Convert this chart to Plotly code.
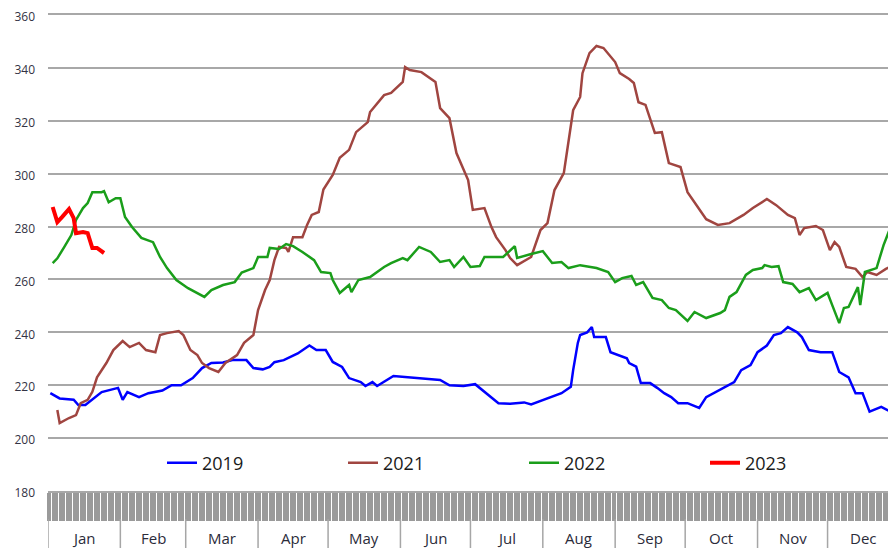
import plotly.graph_objects as go

# ---------------- data (day of year, value) ----------------
days_2019 = [1, 5, 11, 13, 16, 23, 30, 32, 34, 39, 43, 49, 53, 57, 62, 66, 70, 75, 79, 85, 88, 92, 95, 97,
             101, 107, 112, 115, 119, 122, 126, 129, 134, 136, 139, 141, 148, 155, 162, 168, 172, 178, 183,
             186, 190, 193, 198, 204, 207, 212, 216, 220, 224, 225, 227, 228, 231, 233, 234, 239, 241, 244,
             248, 249, 252, 254, 258, 261, 264, 267, 270, 274, 279, 282, 289, 294, 297, 301, 304, 308, 311,
             314, 317, 321, 323, 326, 331, 336, 339, 343, 346, 349, 352, 357, 362, 365]
vals_2019 = [217, 215, 214.5, 212.5, 212.5, 217.4, 219, 214.5, 217.4, 215.5, 217, 218, 220, 220, 222.7, 226.5,
             228.4, 228.6, 229.5, 229.5, 226.5, 226, 226.9, 228.7, 229.5, 232, 235, 233.3, 233.3, 228.8, 226.9,
             222.7, 221.2, 219.7, 221.2, 219.7, 223.5, 223, 222.3, 222, 220, 219.7, 220.4, 218.2, 215.5, 213.2,
             213, 213.5, 212.7, 214.4, 215.5, 217, 219.4, 225.7, 236, 239, 240, 242, 238.2, 238.2, 232.5, 231.4,
             230.2, 228.4, 227, 220.8, 220.8, 219, 217, 215.5, 213.2, 213.2, 211.4, 215.5, 218.8, 221.2, 225.7,
             227.6, 232.5, 235, 239, 239.7, 242, 240, 238.2, 233.3, 232.5, 232.5, 225, 223, 217, 217, 210,
             211.8, 209.5, 210]

days_2021 = [4, 5, 9, 12, 14, 17, 19, 21, 25, 28, 32, 35, 39, 42, 46, 48, 51, 56, 58, 61, 64, 66, 69, 73, 76,
             81, 84, 88, 90, 93, 95, 97, 99, 102, 103, 105, 109, 111, 113, 116, 118, 122, 125, 129, 132, 137,
             138, 144, 147, 152, 153, 155, 160, 166, 168, 172, 175, 180, 182, 187, 190, 192, 196, 198, 201,
             207, 211, 214, 217, 221, 225, 228, 229, 232, 235, 238, 243, 245, 249, 251, 253, 256, 260, 263,
             266, 271, 274, 280, 282, 287, 292, 298, 302, 308, 312, 317, 320, 322, 324, 329, 332, 335, 337,
             339, 342, 346, 349, 351, 355, 359, 365]
vals_2021 = [210.6, 205.7, 207.6, 208.7, 213.2, 214.5, 217.5, 223, 228.4, 233.3, 236.7, 234.4, 236, 233.3,
             232.5, 239, 239.7, 240.5, 239, 233.3, 231.4, 228.4, 226.5, 225, 228.4, 231.4, 236, 239, 248.4,
             256, 259.8, 267.3, 272.3, 271.9, 270.4, 276, 276, 280.6, 284.4, 285.5, 294, 299.5, 306, 309,
             315.7, 319.5, 323.3, 329.7, 330.5, 334.7, 340.3, 339.2, 338.4, 334.7, 324.8, 321, 307.8, 297.6,
             286.3, 287, 279.8, 276, 271.1, 268.1, 265.4, 268.5, 278.7, 281.3, 293.8, 300.2, 324, 329, 338,
             345.6, 348.3, 347.5, 342.2, 338, 335.8, 334.3, 327, 326, 315.4, 315.7, 304, 302.5, 293, 285.5,
             282.8, 280.6, 281.3, 284.4, 287, 290.4, 288.1, 284.4, 283.2, 276.8, 279.4, 280.2, 278.7, 271.1,
             274.1, 272.3, 264.7, 264, 260.9, 262.8, 261.7, 264, 266.5]

days_2022 = [2, 4, 7, 10, 12, 15, 17, 19, 23, 24, 26, 29, 31, 33, 36, 40, 45, 48, 51, 55, 60, 64, 67, 70, 75,
             80, 83, 88, 90, 94, 95, 99, 102, 105, 109, 114, 117, 121, 122, 125, 129, 130, 133, 138, 144, 147,
             152, 154, 159, 164, 168, 172, 174, 178, 181, 185, 187, 194, 195, 200, 201, 207, 212, 216, 220,
             223, 228, 235, 240, 243, 246, 250, 252, 255, 259, 263, 266, 269, 274, 277, 282, 288, 290, 292,
             295, 299, 302, 306, 307, 310, 313, 315, 319, 322, 326, 329, 334, 336, 339, 341, 343, 347, 348,
             350, 355, 358, 361, 365]
vals_2022 = [266.2, 268, 272.3, 276.8, 282.5, 287, 288.9, 293, 293, 293.4, 289.2, 290.7, 290.7, 283.6, 279.8,
             275.7, 274.1, 268.5, 264.3, 259.8, 256.7, 254.9, 253.4, 256, 257.9, 259, 262.6, 264.3, 268.5,
             268.5, 271.9, 271.5, 273.4, 272.6, 270.4, 267.3, 262.8, 262.4, 259.8, 254.9, 257.9, 255.2, 259.8,
             260.9, 264.7, 266.2, 268.1, 267.3, 272.3, 270.4, 266.6, 267.3, 264.7, 268.5, 264.7, 265.1, 268.5,
             268.5, 268.5, 272.6, 268.1, 269.6, 270.7, 266.2, 266.6, 264.3, 265.4, 264.3, 262.8, 259, 260.5,
             261.3, 257.9, 259, 253, 252.2, 249.2, 248.4, 244.3, 247.7, 245.4, 247.3, 248.4, 253.4, 255.2,
             261.7, 263.6, 264.3, 265.4, 264.7, 265, 259, 258.3, 255.2, 256.7, 252.2, 254.9, 250.3, 243.5,
             249.2, 249.6, 257.1, 250.3, 262.8, 264.3, 273, 279.8, 281]

days_2023 = [2, 4, 6, 9, 11, 12, 15, 17, 19, 21, 24]
vals_2023 = [287.4, 281.7, 283.6, 286.6, 283.2, 277.5, 277.9, 277.5, 271.9, 271.9, 270]

month_names = ["Jan", "Feb", "Mar", "Apr", "May", "Jun", "Jul", "Aug", "Sep", "Oct", "Nov", "Dec"]
month_starts = [0, 31, 59, 90, 120, 151, 181, 212, 243, 273, 304, 334, 365]
y_ticks = [180, 200, 220, 240, 260, 280, 300, 320, 340, 360]

series = [
    ("2019", days_2019, vals_2019, "#0000ff", 2.5),
    ("2021", days_2021, vals_2021, "#a04540", 2.5),
    ("2022", days_2022, vals_2022, "#1a9e1a", 2.5),
    ("2023", days_2023, vals_2023, "#ff0000", 4),
]

# ---------------- geometry ----------------
# the page body has an 8px margin, so the figure is drawn from (8, 8)
BODY = 8
W, H = 896 - BODY, 551 - BODY
PLOT_L, PLOT_T, PLOT_B = 48, 15, 491          # page pixels of plot area
ML = PLOT_L - BODY
MT = PLOT_T - BODY
MB = H - (PLOT_B - BODY)
MR = 0
plot_w = W - ML - MR
plot_h = H - MT - MB


def py(p):
    """page pixel y -> paper coordinate"""
    return (PLOT_B - p) / plot_h


def px(p):
    """page pixel x -> paper coordinate"""
    return (p - PLOT_L) / plot_w


fig = go.Figure()
for name, d, v, c, w in series:
    fig.add_trace(go.Scatter(x=d, y=v, mode="lines", name=name,
                             line=dict(color=c, width=w), cliponaxis=True))

shapes = []
for s in month_starts[:-1]:
    shapes.append(dict(type="line", xref="x", yref="paper", x0=s, x1=s,
                       y0=py(519), y1=py(548), line=dict(color="#a6a6a6", width=1.5)))

annotations = []
for i, name in enumerate(month_names):
    mid = (month_starts[i] + month_starts[i + 1]) / 2
    annotations.append(dict(x=mid, y=py(538), xref="x", yref="paper", text=name,
                            showarrow=False, xanchor="center", yanchor="middle",
                            font=dict(family="Open Sans", size=15, color="#2b2b3a")))

fig.update_layout(
    width=W, height=H,
    margin=dict(l=ML, r=MR, t=MT, b=MB, pad=0, autoexpand=False),
    plot_bgcolor="white", paper_bgcolor="white",
    showlegend=True,
    legend=dict(orientation="h", x=px(162), xanchor="left",
                y=py(463), yanchor="middle", entrywidth=136, entrywidthmode="pixels",
                font=dict(family="Open Sans", size=18, color="#1a1a1a"),
                bgcolor="rgba(0,0,0,0)", borderwidth=0, itemwidth=30),
    shapes=shapes, annotations=annotations,
    xaxis=dict(range=[0, plot_w / 2.334], showgrid=False, zeroline=False,
               showticklabels=False, tickmode="linear", tick0=0, dtick=1,
               ticks="outside", ticklen=28, tickwidth=1.6, tickcolor="#9a9a9a",
               showline=True, mirror=True, linecolor="#a8a8a8", linewidth=2, fixedrange=True),
    yaxis=dict(range=[180, 360], tickvals=y_ticks, showgrid=True, gridcolor="#a8a8a8",
               gridwidth=1.5, zeroline=False, showline=False, ticks="",
               ticklabelstandoff=12, ticklabeloverflow="allow", ticklabelshift=2,
               tickfont=dict(family="Open Sans", size=12, color="#333344"), fixedrange=True),
)

fig.write_html("out.html")
